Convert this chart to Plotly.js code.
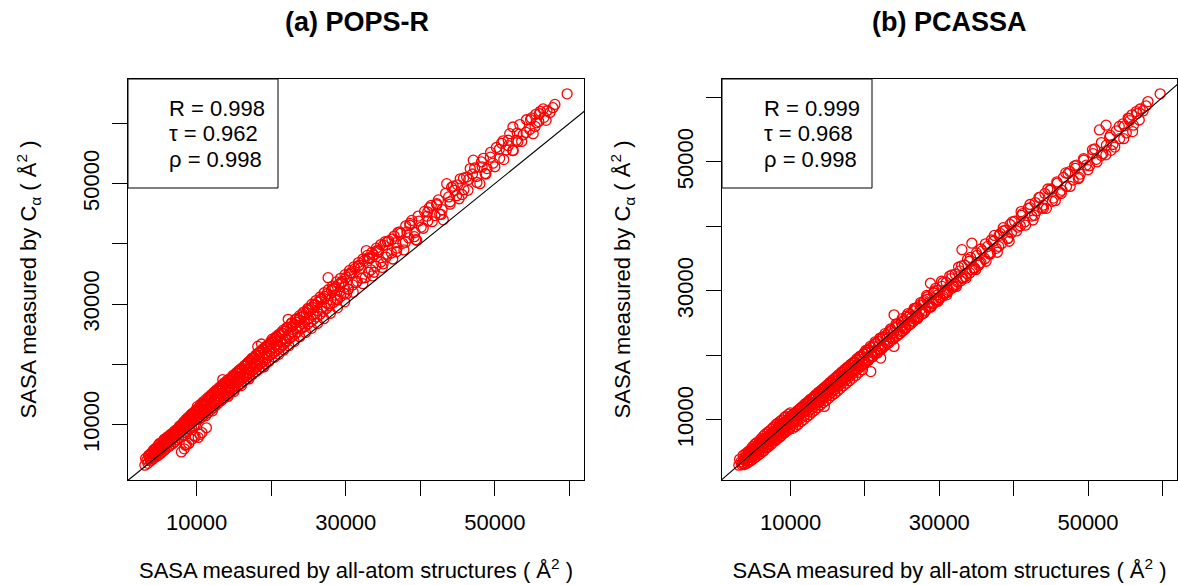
<!DOCTYPE html>
<html>
<head>
<meta charset="utf-8">
<script src="https://cdn.plot.ly/plotly-3.0.1.min.js"></script>
<style>html,body{margin:0;padding:0;background:#fff;}#chart{width:1178px;height:585px;}</style>
</head>
<body>
<div id="chart"></div>
<script>
// SASA measured by all-atom structures (shared x for both panels)
const allAtom = [
3050,3320,3540,3710,3900,4080,4210,4350,4410,4480,4600,4720,4850,4960,5010,5080,5190,5300,5420,5530,
5580,5640,5760,5870,5980,6090,6140,6200,6310,6420,6530,6650,6700,6760,6870,6980,7090,7200,7260,7310,
7430,7540,7650,7760,7820,7880,7950,7990,8100,8210,8330,8380,8440,8550,8620,8670,8780,8890,8940,9010,
9050,9120,9230,9350,9460,9500,9570,9690,9800,9910,
10020,10130,10200,10250,10360,10480,10590,10700,10710,10820,10950,11060,11180,11300,11310,11420,11540,11650,11770,11890,
12000,12120,12250,12370,12480,12600,12720,12850,12970,13080,13200,13330,13450,13570,13690,13820,13940,14060,14190,14310,
14440,14545,14570,14700,14830,14960,15080,15210,15340,15470,15600,15730,15860,15990,16120,16250,16380,16510,16640,16770,
16900,17040,17170,17310,17440,17580,17720,17860,18000,18140,18280,18420,18560,18700,18850,19000,19150,19300,19450,19600,
19750,19900,
20050,20200,20350,20500,20650,20790,20800,20960,21120,21280,21440,21600,21770,21940,22125,22110,22280,22450,22630,22810,
22990,23170,23350,23540,23730,23904,23920,24110,24300,24500,24700,24900,25100,25300,25500,25700,25900,26100,26300,26520,
26740,26960,27180,27400,27630,27860,28090,28320,28560,28810,29060,29310,29560,29810,
30080,30360,30650,30940,31230,31530,31830,32140,32450,32760,33048,33070,33390,33710,34040,34385,34720,35060,35410,35770,
36130,36500,36880,37260,37650,38050,38450,38860,39270,39520,39700,
40130,40570,41020,41480,41950,42430,42920,43080,43540,43990,44410,44880,45360,45850,46220,46700,47110,47560,48000,48470,
48950,49430,49760,
50210,50650,51120,51540,52000,52430,52470,52900,53350,53800,54250,54700,55150,55500,55900,56100,56490,56890,57000,58060,
59700,
3150,3450,3620,3800,3980,4150,4300,4530,4680,4800,
4920,5120,5250,5370,5480,5700,5820,5930,6040,6260,
6370,6480,6600,6820,6930,7040,7150,7370,7480,7600,
7710,7930,8050,8160,8270,8490,8600,8720,8830,9060,
9180,9290,9410,9630,9740,9860,9960,8480,9600,10450,
10080,10300,10530,10650,10880,11000,11240,11480,11600,11830,
11950,12180,12310,12540,12660,12900,13030,13260,13390,13630,
13760,14000,14120,14380,14500,14770,14890,15150,15280,15540,
15660,15930,16060,16320,16450,16710,16840,17100,17240,17510,
17650,17930,18070,18350,18490,18780,18920,19220,19370,19670,
19820,13500,16000,18200,12100,15000,17000,19000,14200,11200,
20120,20420,20720,21030,21360,21680,22030,22360,22720,23080,
23450,23820,24200,24600,25000,25400,25800,26200,26630,27060,
27500,27950,28400,28880,29360,29850,30500,31000,31700,32300,
33000,33600,34200,34900,35600,36300,37000,37800,38600,39400,
41200,42600,44200,45600,47300,48700,50900,53100,54900,57400,
3700,4250,4750,5330,5850,6350,6880,7400,7900,8400,
8900,9400,9950,10400,10900,11400,11900,12400,12900,13400,
13900,14400,14900,15400,15900,16400,16900,17400,17900,18400,
18900,19400,19950,20500,21050,21600,22150,22700,23250,23800,
24350,24900,25450,26000,26550,27100,27650,28200,28750,29300,
29900,30500,31100,31700,32300,32900,33500,34100,34700,35300,
3900,4500,5100,5650,6200,6750,7300,7850,8350,8850,
9350,9850,10350,10850,11350,11850,12350,12850,13350,13850,
14350,14850,15350,15850,16350,16850,17350,17850,18350,18850,
19350,19850,20350,20850,21350,21850,22350,22850,23350,23850,
24400,25000,25600,26200,26800,27400,28000,28600,29200,29800,
36700,38200,40900,42200,43800,45000,46500,48300,51800,55600,
30300,30800,31400,32000,32600,33200,33800,34400,35000,35600,
36200,36800,37400,38000,38600,39200,39800,40400,41000,41600,
42200,42800,43400,44000,44600,45200,45800,46400,47000,47600,
48200,48800,49400,50000,50600,51200,51800,52400,53000,53600,
28300,28900,29500,30100,54200,54800,55400,56000,56600,57800
];
// SASA measured by C-alpha, POPS-R
const popsR = [
3300,4100,4900,4400,5300,4700,5800,5100,6000,5300,6200,5500,6600,5700,6900,6000,5800,7000,6300,7300,
6500,7600,6600,7500,6900,8000,7000,7700,7200,8300,7400,8500,7600,8200,7800,8900,8000,8700,8200,9200,
8400,9400,8600,9600,8900,9500,5500,9100,9900,9300,6000,10200,9600,10500,6700,9800,10700,10000,6900,10900,
10200,11100,10300,7600,11300,10600,11600,10800,8000,11800,
12300,11000,7900,12700,11400,12900,11700,8700,13100,12000,13400,12200,13700,9500,12500,14000,12700,14300,13000,14500,
13200,14900,13500,15000,13800,15300,14000,15600,14300,15900,14600,16200,14800,16400,15100,16800,15300,17000,15600,17300,
15900,16900,17600,16100,17900,16400,18200,16600,18500,17000,18800,17200,19100,17500,19300,17800,19700,18000,20000,18300,
20300,18600,20600,18900,21000,19100,21200,19400,21600,19700,21900,20000,22200,23400,20400,22500,20800,22900,21100,23200,
21500,23500,
21700,23800,22000,24100,22300,23900,24500,22600,24800,22900,25200,23300,25500,23700,26000,24000,27500,24300,26200,24700,
26600,25000,27000,25400,27400,25900,27800,26000,28000,26300,28600,26700,29000,27100,29500,27500,29900,27900,30300,28300,
30900,28800,31300,29300,34400,29800,32300,30300,32800,30800,33300,31300,33800,31800,
34500,32500,35200,33200,35900,33800,36500,34300,37200,38900,35300,37600,35700,38200,36300,39000,37000,39800,37800,40500,
38500,41300,39300,42000,40100,43000,41000,43900,41900,40600,44600,
42800,45400,43800,46400,44700,47300,45700,44000,50000,47000,49600,48000,50800,49000,51100,52500,53900,51200,50000,54200,
52500,55200,53400,
56000,54200,57100,55600,58300,59400,55500,57200,59800,58100,60600,59000,58300,61500,60300,62000,62400,60500,62100,63150,
64900,
4400,3600,4900,4000,5200,4300,5500,4700,5900,4900,
6200,5200,6500,5500,6800,5800,7100,6100,7400,6400,
8100,6600,8400,6900,8700,7200,9000,7500,9300,7800,
9800,8100,10100,8300,10500,8700,10900,8900,11200,9300,
11600,9500,11900,9900,12200,10100,12500,6600,8200,8400,
13000,10900,13400,11200,13800,11600,14200,12000,14600,12400,
15000,12800,15400,13200,15800,13600,16200,14000,16600,14400,
17000,14800,17400,15200,17700,15600,18200,16000,18600,16400,
19000,16800,19400,17200,19800,17600,20300,18000,20700,18400,
21100,18800,21500,19200,22000,19600,22400,20100,22800,20500,
23300,17500,16500,23000,12300,15500,17600,19600,14700,11500,
24200,21200,24700,21700,25300,22400,26000,23100,26800,23800,
27600,24600,28400,25300,29200,26000,30000,26800,30800,27600,
31700,28500,32600,29400,33600,30400,35000,32000,36300,33400,
37700,34700,38900,36100,40400,37500,41900,39000,43400,40700,
46000,44900,49400,48200,52600,51700,56700,57000,60900,61800,
4500,5100,5700,6400,7000,7700,8300,9000,9600,10200,
11100,11700,12300,12900,13500,14000,14700,15200,15800,16300,
16900,17400,18000,18600,19200,19800,20300,21000,21500,22000,
22600,23100,23800,24400,25000,25700,26200,26900,27500,28100,
28700,29300,30000,30600,31200,31900,32400,33000,33700,34300,
34900,35600,36200,36900,37500,38100,38600,39300,39900,40400,
4300,5000,5700,6300,7000,7700,8300,8900,9600,10200,
10800,11300,11900,12500,13000,13600,14200,14800,15300,15900,
16400,16900,17400,18000,18500,19100,19600,20100,20700,21200,
21700,22200,22800,23300,23800,24300,24900,25400,25900,26500,
27000,27600,28300,28900,29500,30200,30800,31500,32100,32800,
40200,42000,44600,46500,47800,49800,50700,52800,56300,60100,
32500,35200,33600,36000,34400,37600,35300,38700,36700,38300,
40800,38700,41800,40300,43100,41200,43800,42600,45300,43700,
46700,44900,48400,46600,48900,47500,50900,48900,51600,50200,
53600,51600,54400,52800,55700,54000,57200,55500,58400,57000,
32600,30700,33500,31700,58500,60600,59500,61600,61000,62600
];
// SASA measured by C-alpha, PCASSA
const pcassa = [
3000,3500,3300,4000,3700,4500,4100,4900,4300,5000,4400,5300,4600,5400,4800,5600,5000,5700,5100,6000,
5300,6200,5500,6400,5700,6600,5900,6900,6100,6800,6300,7100,6400,7300,6600,7400,6800,7700,6900,7600,
7100,8000,7300,8100,7500,8300,7600,8200,7800,8600,8000,8800,8100,9000,8300,9200,8500,9300,8700,9500,
8800,9400,9000,9700,9100,9900,9300,10100,9500,10300,
10500,9700,10600,9900,10900,10100,11100,10300,11000,10500,11400,10600,11600,10900,11800,11000,12000,11200,12200,11500,
12400,11600,12700,11900,12900,12100,13200,12300,13300,12500,13600,12700,13900,12900,14100,13200,14300,13400,14600,13600,
14800,12100,14000,15100,14200,15400,14500,15600,14700,15900,15000,16100,15200,16400,15500,16600,15700,16900,16000,17200,
16200,17500,16400,17800,16700,18000,16900,18300,17200,18500,17400,18800,17700,19000,18000,19300,18200,19700,18500,19900,
18700,20200,
19000,20500,19400,20900,19700,17500,21200,20000,21500,20300,21800,20600,22200,20900,19600,22500,21300,22800,21600,23100,
21900,23500,22300,23800,22600,21400,26300,24300,23000,24700,23400,25100,23800,25500,24300,25900,24700,26400,25200,26900,
25600,27400,26000,27800,26400,28300,26900,28700,27400,31200,28000,29700,28500,30100,
29000,30700,29600,31300,30100,31900,30700,32600,31400,33100,36400,32000,34000,32700,34600,37400,33600,35500,34300,36200,
35000,36900,35800,37700,36600,38600,37400,39400,38200,40300,39000,
40800,39900,41700,40700,42800,41600,43700,42400,44500,43300,42800,45600,44400,46700,45300,47600,46200,48500,47200,49500,
48100,50300,49500,
49400,51300,50400,54960,51300,55700,52600,53800,52700,54800,53600,55900,54500,56700,57300,55700,57800,56500,58200,59350,
60550,
3900,3050,4500,3100,4800,3300,5100,3600,5500,3800,
5900,4100,6300,4300,6500,4600,6800,4800,7100,5100,
7500,5300,7800,5700,8100,5900,8300,6200,8600,6500,
8900,6800,9300,7000,9500,7300,9800,7500,10000,7900,
10400,8100,10600,8400,10900,8600,11100,9300,10000,9700,
10600,8700,11000,9000,11400,9300,11700,9800,12100,10100,
12500,10500,12800,10800,13200,11200,13500,11500,13900,11900,
14300,12300,14600,12700,15000,13000,15400,13400,15800,13800,
16200,14100,16600,14500,17000,14900,17400,15300,17800,15700,
18200,16100,18600,16500,19000,16900,19500,17400,19900,17800,
20300,12900,15200,17500,11500,14300,16300,18400,13500,10600,
20800,19200,21400,19800,22100,20400,22700,21100,23400,21800,
24100,22500,24900,23300,25700,24100,26500,24900,27300,25700,
28200,26600,29100,27500,30000,28400,31300,29400,32500,30700,
33900,32000,35200,33300,36500,34600,37900,36000,39300,37700,
42000,41000,45100,44000,48200,47400,52000,51800,55600,57900,
3200,3700,4200,4700,5200,5700,6200,6700,7100,7600,
8000,8400,8900,9400,9800,10300,10800,11300,11800,12300,
12800,13300,13700,14200,14700,15200,15700,16200,16700,17200,
17700,18200,18700,19300,19800,20400,20900,21500,22000,22600,
23100,23700,24200,24800,25300,25900,26400,27000,27500,28100,
28600,29200,29800,30400,31000,31600,32200,32800,33400,34000,
4200,4800,5400,5950,6500,7050,7600,8150,8700,9200,
9750,9550,10750,10550,11750,11550,12750,12550,13750,13550,
14800,14500,15800,15500,16800,16500,17800,17500,18800,18500,
19800,19500,20850,20500,21850,21500,22850,22500,23850,23500,
24900,24600,26100,25800,27300,27000,28500,28200,29700,29400,
35900,38900,40100,42900,42900,45800,45600,49000,51000,56400,
31500,29600,32300,30700,33700,32000,34900,33300,35900,34400,
37300,35700,38600,36900,39800,38100,40700,39300,42300,40200,
43400,41700,44500,42800,45800,43900,46900,45100,48300,46200,
49400,47600,50500,48800,51900,50000,53000,51100,54100,52300,
29300,27600,30400,28900,55500,53600,56800,54700,57500,58700
];
const majorTicks = [10000, 30000, 50000];
const minorTicks = [20000, 40000, 60000];
const panelTitles = ['(a) POPS-R', '(b) PCASSA'];
const statsPops = ['R = 0.998', 'τ = 0.962', 'ρ = 0.998'];
const statsPcassa = ['R = 0.999', 'τ = 0.968', 'ρ = 0.998'];

const W = 1178, H = 585;
const FONT = 'Liberation Sans, Arial, Helvetica, sans-serif';
function rRange(arr) {
  const mn = Math.min(...arr), mx = Math.max(...arr), d = mx - mn;
  return [mn - 0.04 * d, mx + 0.04 * d];
}
const px = v => v / W;
const py = v => (H - v) / H;

const marker = {symbol: 'circle-open', color: '#ff0000', size: 10, line: {color: '#ff0000', width: 1.3}};
const traces = [
  {x: allAtom, y: popsR, type: 'scatter', mode: 'markers', marker: marker, xaxis: 'x', yaxis: 'y', hoverinfo: 'skip'},
  {x: [0, 80000], y: [0, 80000], type: 'scatter', mode: 'lines', line: {color: '#000', width: 1.1}, xaxis: 'x', yaxis: 'y', hoverinfo: 'skip'},
  {x: allAtom, y: pcassa, type: 'scatter', mode: 'markers', marker: marker, xaxis: 'x2', yaxis: 'y2', hoverinfo: 'skip'},
  {x: [0, 80000], y: [0, 80000], type: 'scatter', mode: 'lines', line: {color: '#000', width: 1.1}, xaxis: 'x2', yaxis: 'y2', hoverinfo: 'skip'}
];

const axCommon = {
  showline: true, mirror: true, linecolor: '#000', linewidth: 1,
  ticks: 'outside', ticklen: 15, tickwidth: 1, tickcolor: '#000',
  showgrid: false, zeroline: false, autorange: false,
  tickmode: 'array', tickvals: majorTicks, ticktext: majorTicks.map(String),
  minor: {tickmode: 'array', tickvals: minorTicks, ticks: 'outside', ticklen: 15, tickwidth: 1, tickcolor: '#000', showgrid: false},
  tickfont: {family: FONT, size: 22, color: '#000'}
};
const xTitle = {text: 'SASA measured by all-atom structures ( Å<sup>2</sup> )', font: {family: FONT, size: 22, color: '#000'}, standoff: 28};
const yTitle = {text: 'SASA measured by C<sub>α</sub> ( Å<sup>2</sup> )', font: {family: FONT, size: 22, color: '#000'}, standoff: 36};
const yDom = [py(480), py(79)];

const layout = {
  width: W, height: H, showlegend: false,
  margin: {l: 0, r: 0, t: 0, b: 0},
  paper_bgcolor: '#fff', plot_bgcolor: '#fff',
  font: {family: FONT, color: '#000'},
  xaxis: Object.assign({}, axCommon, {domain: [px(128), px(584)], anchor: 'y', range: rRange(allAtom), ticklabelstandoff: 8, title: xTitle}),
  yaxis: Object.assign({}, axCommon, {domain: yDom, anchor: 'x', range: rRange(popsR), tickangle: -90, ticklabelstandoff: 4, title: yTitle}),
  xaxis2: Object.assign({}, axCommon, {domain: [px(722), px(1177)], anchor: 'y2', range: rRange(allAtom), ticklabelstandoff: 8, title: xTitle}),
  yaxis2: Object.assign({}, axCommon, {domain: yDom, anchor: 'x2', range: rRange(pcassa), tickangle: -90, ticklabelstandoff: 4, title: yTitle}),
  shapes: [
    {type: 'rect', xref: 'paper', yref: 'paper', x0: px(128), x1: px(278), y0: py(188), y1: py(79), line: {color: '#000', width: 1}, fillcolor: 'rgba(0,0,0,0)'},
    {type: 'rect', xref: 'paper', yref: 'paper', x0: px(722), x1: px(872), y0: py(188), y1: py(79), line: {color: '#000', width: 1}, fillcolor: 'rgba(0,0,0,0)'}
  ],
  annotations: []
};
const titleX = [px(357), px(949)];
panelTitles.forEach((t, i) => {
  layout.annotations.push({text: '<b>' + t + '</b>', xref: 'paper', yref: 'paper', x: titleX[i], y: py(22), xanchor: 'center', yanchor: 'middle', showarrow: false, font: {family: FONT, size: 27, color: '#000'}});
});
const lineY = [108, 134, 159];
statsPops.forEach((t, i) => {
  layout.annotations.push({text: t, xref: 'paper', yref: 'paper', x: px(167), y: py(lineY[i]), xanchor: 'left', yanchor: 'middle', showarrow: false, font: {family: FONT, size: 22, color: '#000'}});
});
statsPcassa.forEach((t, i) => {
  layout.annotations.push({text: t, xref: 'paper', yref: 'paper', x: px(762), y: py(lineY[i]), xanchor: 'left', yanchor: 'middle', showarrow: false, font: {family: FONT, size: 22, color: '#000'}});
});

Plotly.newPlot('chart', traces, layout, {staticPlot: true, displayModeBar: false});
</script>
</body>
</html>
